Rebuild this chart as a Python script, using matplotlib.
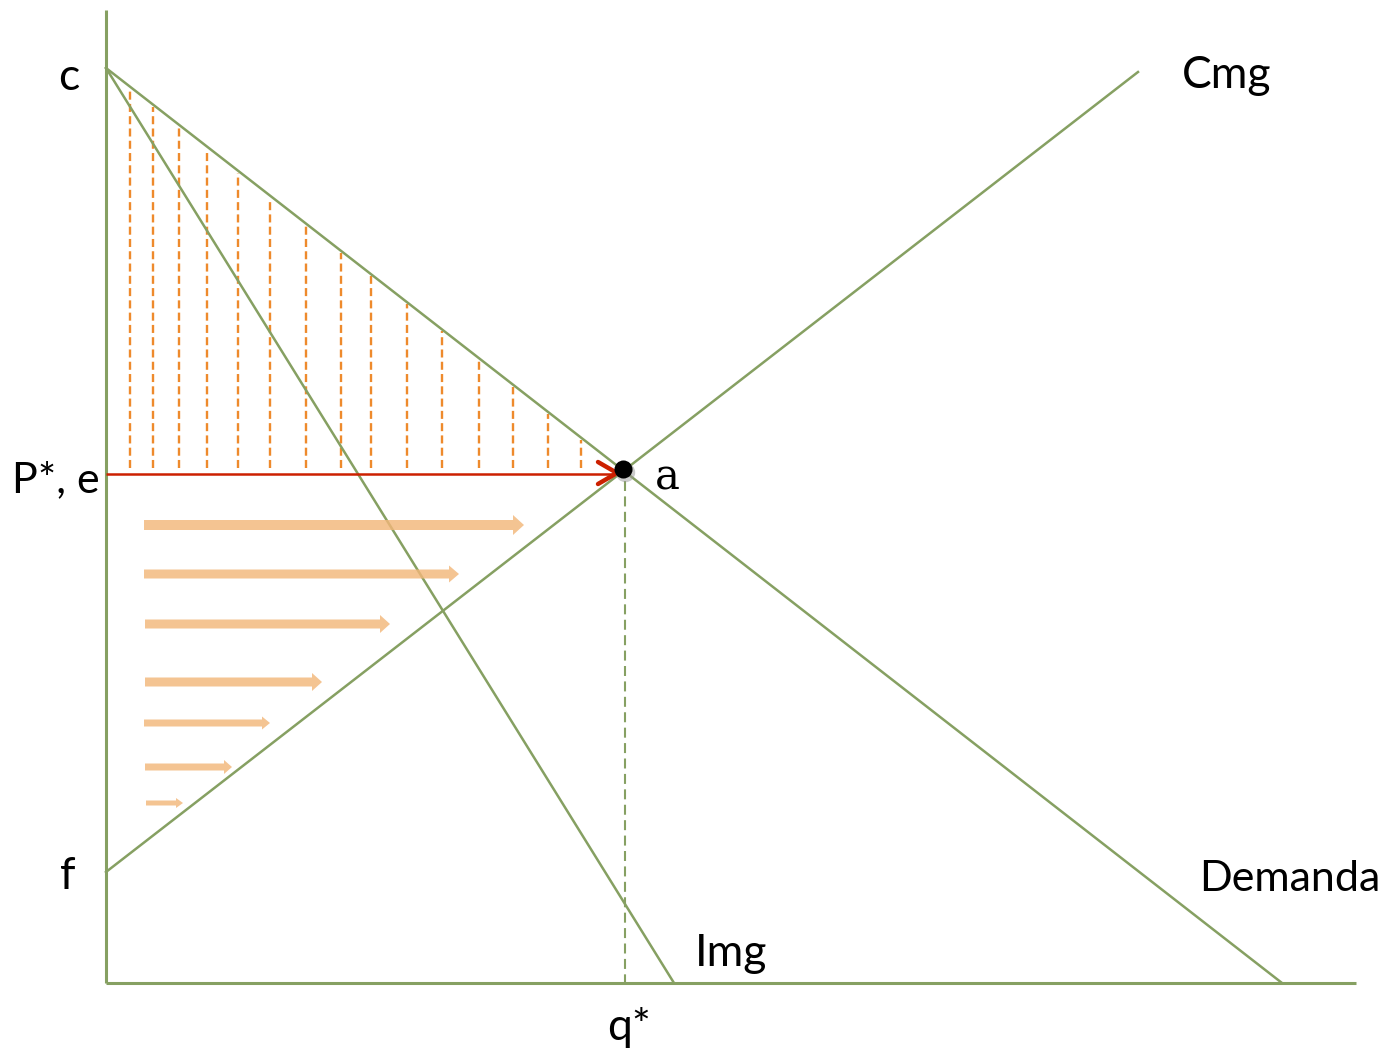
import numpy as np
import matplotlib
matplotlib.use("Agg")
import matplotlib.pyplot as plt

# ---- data (diagram coordinates, pixel-like units, y grows downward) ----
axis_origin = (106, 983)
y_axis_top = 10
x_axis_right = 1356

demand_x = [106, 1282]
demand_y = [68, 983]
img_x = [106, 674]
img_y = [68, 983]
cmg_x = [106, 1138]
cmg_y = [872, 72]

eq_x, eq_y = 623, 469
price_y = 474

hatch_x = [130, 153, 179, 207, 238, 270, 306, 341, 371, 407, 442, 479, 513, 548, 581]
hatch_bottom = 468

arrow_y = [525, 574, 624, 682, 723, 767, 803]
arrow_x0 = [144, 144, 145, 145, 144, 145, 146]
arrow_x1 = [524, 459, 390, 322, 270, 232, 183]
arrow_w = [10, 9, 9, 9, 7, 7, 5]
arrow_hw = [20, 17, 18, 18, 13, 14, 10]
arrow_hl = [11, 10, 10, 10, 8, 8, 7]

labels = {
    "c": (58, 90, "left"),
    "P*, e": (100, 492, "right"),
    "f": (60, 889, "left"),
    "a": (655, 489, "left"),
    "Cmg": (1182, 88, "left"),
    "Demanda": (1380, 891, "right"),
    "Img": (695, 966, "left"),
    "q*": (607, 1040, "left"),
}

GREEN = "#86a062"
ORANGE = "#ee8a2c"
RED = "#cc2000"

fig = plt.figure(figsize=(13.86, 10.53), dpi=100)
ax = fig.add_axes([0, 0, 1, 1])
ax.set_xlim(0, 1386)
ax.set_ylim(1053, 0)
ax.axis("off")

# axes
ax.plot([axis_origin[0], axis_origin[0]], [y_axis_top, axis_origin[1]], color=GREEN, lw=2.2, solid_capstyle="butt", zorder=3)
ax.plot([axis_origin[0], x_axis_right], [axis_origin[1], axis_origin[1]], color=GREEN, lw=2.2, solid_capstyle="butt", zorder=3)

# curves
ax.plot(demand_x, demand_y, color=GREEN, lw=1.8, zorder=3)
ax.plot(img_x, img_y, color=GREEN, lw=1.8, zorder=3)
ax.plot(cmg_x, cmg_y, color=GREEN, lw=1.8, zorder=3)

# hatch under demand
for hx in hatch_x:
    top = np.interp(hx, demand_x, demand_y) + 2
    ax.plot([hx, hx], [hatch_bottom, top], color=ORANGE, lw=1.7, dashes=(3.4, 1.8), zorder=2)

# orange arrows
for y, x0, x1, w, hw, hl in zip(arrow_y, arrow_x0, arrow_x1, arrow_w, arrow_hw, arrow_hl):
    ax.arrow(x0, y, x1 - x0 - hl, 0, width=w, head_width=hw, head_length=hl,
             length_includes_head=False, color="#f2b77a", alpha=0.82, lw=0, zorder=4)

# red price line with chevron head
ax.plot([axis_origin[0], 616], [price_y, price_y], color=RED, lw=1.8, solid_capstyle="butt", zorder=4)
ax.plot([598, 617, 598], [462, price_y - 1, 484], color=RED, lw=3.2, solid_capstyle="round",
        solid_joinstyle="miter", zorder=4)

# dashed q* line
ax.plot([625, 625], [481, axis_origin[1]], color=GREEN, lw=1.5, dashes=(4.8, 2.6), zorder=2)

# equilibrium dot with shadow
ax.plot([eq_x + 2], [eq_y + 3], "o", ms=14, color="#999999", alpha=0.5, mec="none", zorder=5)
ax.plot([eq_x], [eq_y], "o", ms=13, color="black", mec="none", zorder=6)

# labels
sans = ["Lato", "DejaVu Sans"]
for key, (x, y, ha) in labels.items():
    if key == "a":
        ax.text(x, y, key, fontsize=30, family=["DejaVu Serif"], ha=ha, va="baseline")
    elif key == "Demanda":
        ax.text(x, y, key, fontsize=31, family=sans, ha=ha, va="baseline")
    elif key == "P*, e":
        ax.text(x, y, key, fontsize=31, family=sans, ha=ha, va="baseline")
    else:
        ax.text(x, y, key, fontsize=32, family=sans, ha=ha, va="baseline")

fig.savefig("out.png", dpi=100)
